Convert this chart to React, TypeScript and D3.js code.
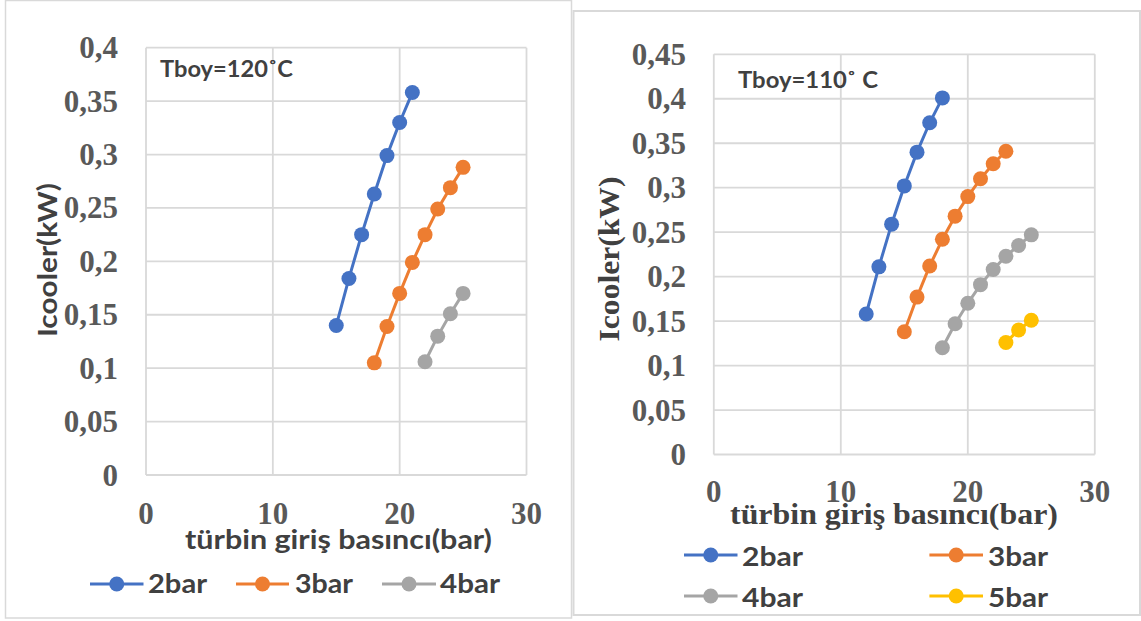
import React from 'react';
import * as d3 from 'd3';

// ---- data ----
const xTicks = [0, 10, 20, 30];
const leftYTicks = [0, 0.05, 0.1, 0.15, 0.2, 0.25, 0.3, 0.35, 0.4];
const rightYTicks = [0, 0.05, 0.1, 0.15, 0.2, 0.25, 0.3, 0.35, 0.4, 0.45];

const left2barX = [15, 16, 17, 18, 19, 20, 21];
const left2barY = [0.140, 0.184, 0.225, 0.263, 0.299, 0.330, 0.358];
const left3barX = [18, 19, 20, 21, 22, 23, 24, 25];
const left3barY = [0.105, 0.139, 0.170, 0.199, 0.225, 0.249, 0.269, 0.288];
const left4barX = [22, 23, 24, 25];
const left4barY = [0.106, 0.130, 0.151, 0.170];

const right2barX = [12, 13, 14, 15, 16, 17, 18];
const right2barY = [0.158, 0.211, 0.259, 0.302, 0.340, 0.373, 0.401];
const right3barX = [15, 16, 17, 18, 19, 20, 21, 22, 23];
const right3barY = [0.138, 0.177, 0.212, 0.242, 0.268, 0.290, 0.310, 0.327, 0.341];
const right4barX = [18, 19, 20, 21, 22, 23, 24, 25];
const right4barY = [0.120, 0.147, 0.170, 0.191, 0.208, 0.223, 0.235, 0.247];
const right5barX = [23, 24, 25];
const right5barY = [0.126, 0.140, 0.151];

const seriesNames = ['2bar', '3bar', '4bar', '5bar'];
const colors = ['#4472C4', '#ED7D31', '#A5A5A5', '#FFC000'];

const SANS = "Lato, 'Open Sans', sans-serif";
const SERIF = "'Liberation Serif', 'DejaVu Serif', serif";
const GRID = '#D9D9D9';
const TICK = '#595959';
const TITLE = '#404040';

const fmt = (v: number) => d3.format('')(+v.toFixed(2)).replace('.', ',');

type Series = { name: string; color: string; xs: number[]; ys: number[] };

function Plot({ xRange, yRange, yMax, yTicks, series, yTickRight }: {
  xRange: [number, number]; yRange: [number, number]; yMax: number; yTicks: number[]; series: Series[]; yTickRight: number;
}) {
  const x = d3.scaleLinear().domain([0, 30]).range(xRange);
  const y = d3.scaleLinear().domain([0, yMax]).range(yRange);
  const line = d3.line<[number, number]>().x(d => x(d[0])).y(d => y(d[1]));
  return (
    <g>
      {yTicks.map((t, i) => (
        <line key={'h' + i} x1={x(0)} x2={x(30)} y1={y(t)} y2={y(t)} stroke={GRID} strokeWidth={1.8} />
      ))}
      {xTicks.map((t, i) => (
        <line key={'v' + i} x1={x(t)} x2={x(t)} y1={y(yMax)} y2={y(0)} stroke={GRID} strokeWidth={1.8} />
      ))}
      {yTicks.map((t, i) => (
        <text key={'yt' + i} x={yTickRight} y={y(t) + 10.5} textAnchor="end" fontFamily={SERIF} fontWeight="bold"
          fontSize={31} fill={TICK}>{fmt(t)}</text>
      ))}
      {series.map((s, si) => {
        const pts = s.xs.map((xv, i) => [xv, s.ys[i]] as [number, number]);
        return (
          <g key={'s' + si}>
            <path d={line(pts) || ''} fill="none" stroke={s.color} strokeWidth={3} />
            {pts.map((p, i) => (
              <circle key={i} cx={x(p[0])} cy={y(p[1])} r={7.5} fill={s.color} />
            ))}
          </g>
        );
      })}
    </g>
  );
}

function XTickLabels({ xRange, baseline }: { xRange: [number, number]; baseline: number }) {
  const x = d3.scaleLinear().domain([0, 30]).range(xRange);
  return (
    <g>
      {xTicks.map((t, i) => (
        <text key={i} x={x(t)} y={baseline} textAnchor="middle" fontFamily={SERIF} fontWeight="bold" fontSize={31}
          fill={TICK}>{t}</text>
      ))}
    </g>
  );
}

function LegendItem({ x1, x2, cy, color, label, tx, tw, baseline }: {
  x1: number; x2: number; cy: number; color: string; label: string; tx: number; tw: number; baseline: number;
}) {
  return (
    <g>
      <line x1={x1} x2={x2} y1={cy} y2={cy} stroke={color} strokeWidth={3} />
      <circle cx={(x1 + x2) / 2} cy={cy} r={7.5} fill={color} />
      <text x={tx} y={baseline} fontFamily={SANS} fontWeight="bold" fontSize={27} fill={TITLE}
        textLength={tw} lengthAdjust="spacingAndGlyphs">{label}</text>
    </g>
  );
}

export default function App() {
  const leftSeries: Series[] = [
    { name: seriesNames[0], color: colors[0], xs: left2barX, ys: left2barY },
    { name: seriesNames[1], color: colors[1], xs: left3barX, ys: left3barY },
    { name: seriesNames[2], color: colors[2], xs: left4barX, ys: left4barY },
  ];
  const rightSeries: Series[] = [
    { name: seriesNames[0], color: colors[0], xs: right2barX, ys: right2barY },
    { name: seriesNames[1], color: colors[1], xs: right3barX, ys: right3barY },
    { name: seriesNames[2], color: colors[2], xs: right4barX, ys: right4barY },
    { name: seriesNames[3], color: colors[3], xs: right5barX, ys: right5barY },
  ];
  return (
    <svg width={1141} height={621} style={{ position: 'fixed', left: 0, top: 0, background: '#fff' }}>
      <rect x={0} y={0} width={1141} height={621} fill="#fff" />
      {/* left chart */}
      <rect x={5.5} y={0.5} width={566} height={617.5} fill="#fff" stroke={GRID} strokeWidth={1.5} />
      <Plot xRange={[146, 526.5]} yRange={[475, 47.7]} yMax={0.4} yTicks={leftYTicks} series={leftSeries} yTickRight={118} />
      <XTickLabels xRange={[146, 526.5]} baseline={524} />
      <text x={160} y={77} fontFamily={SANS} fontWeight="bold" fontSize={22} fill={TITLE} textLength={133}
        lengthAdjust="spacingAndGlyphs">Tboy=120˚C</text>
      <text transform="translate(57,260) rotate(-90)" textAnchor="middle" fontFamily={SANS} fontWeight="bold"
        fontSize={27} fill={TITLE} textLength={154} lengthAdjust="spacingAndGlyphs">Icooler(kW)</text>
      <text x={338.5} y={549} textAnchor="middle" fontFamily={SANS} fontWeight="bold" fontSize={27} fill={TITLE}
        textLength={307} lengthAdjust="spacingAndGlyphs">türbin giriş basıncı(bar)</text>
      <LegendItem x1={90} x2={143.5} cy={584} color={colors[0]} label={seriesNames[0]} tx={148} tw={59} baseline={593} />
      <LegendItem x1={236} x2={289} cy={584} color={colors[1]} label={seriesNames[1]} tx={295} tw={58} baseline={593} />
      <LegendItem x1={382} x2={436} cy={584} color={colors[2]} label={seriesNames[2]} tx={440} tw={60} baseline={593} />

      {/* right chart */}
      <rect x={573.5} y={11} width={566.5} height={604} fill="#fff" stroke={GRID} strokeWidth={2} />
      <Plot xRange={[713.8, 1094.8]} yRange={[454.5, 54.3]} yMax={0.45} yTicks={rightYTicks} series={rightSeries} yTickRight={686} />
      <XTickLabels xRange={[713.8, 1094.8]} baseline={502} />
      <text x={738} y={88} fontFamily={SANS} fontWeight="bold" fontSize={22} fill={TITLE} textLength={140}
        lengthAdjust="spacingAndGlyphs">Tboy=110˚ C</text>
      <text transform="translate(619,259) rotate(-90)" textAnchor="middle" fontFamily={SERIF} fontWeight="bold"
        fontSize={30} fill={TITLE} textLength={165} lengthAdjust="spacingAndGlyphs">Icooler(kW)</text>
      <text x={894} y={524} textAnchor="middle" fontFamily={SERIF} fontWeight="bold" fontSize={30} fill={TITLE}
        textLength={328} lengthAdjust="spacingAndGlyphs">türbin giriş basıncı(bar)</text>
      <LegendItem x1={684} x2={737.5} cy={555} color={colors[0]} label={seriesNames[0]} tx={742} tw={61} baseline={566} />
      <LegendItem x1={929.4} x2={983} cy={555} color={colors[1]} label={seriesNames[1]} tx={988} tw={60} baseline={566} />
      <LegendItem x1={684} x2={737.5} cy={596} color={colors[2]} label={seriesNames[2]} tx={742} tw={61} baseline={607} />
      <LegendItem x1={929.4} x2={983} cy={596} color={colors[3]} label={seriesNames[3]} tx={988} tw={60} baseline={607} />
    </svg>
  );
}
